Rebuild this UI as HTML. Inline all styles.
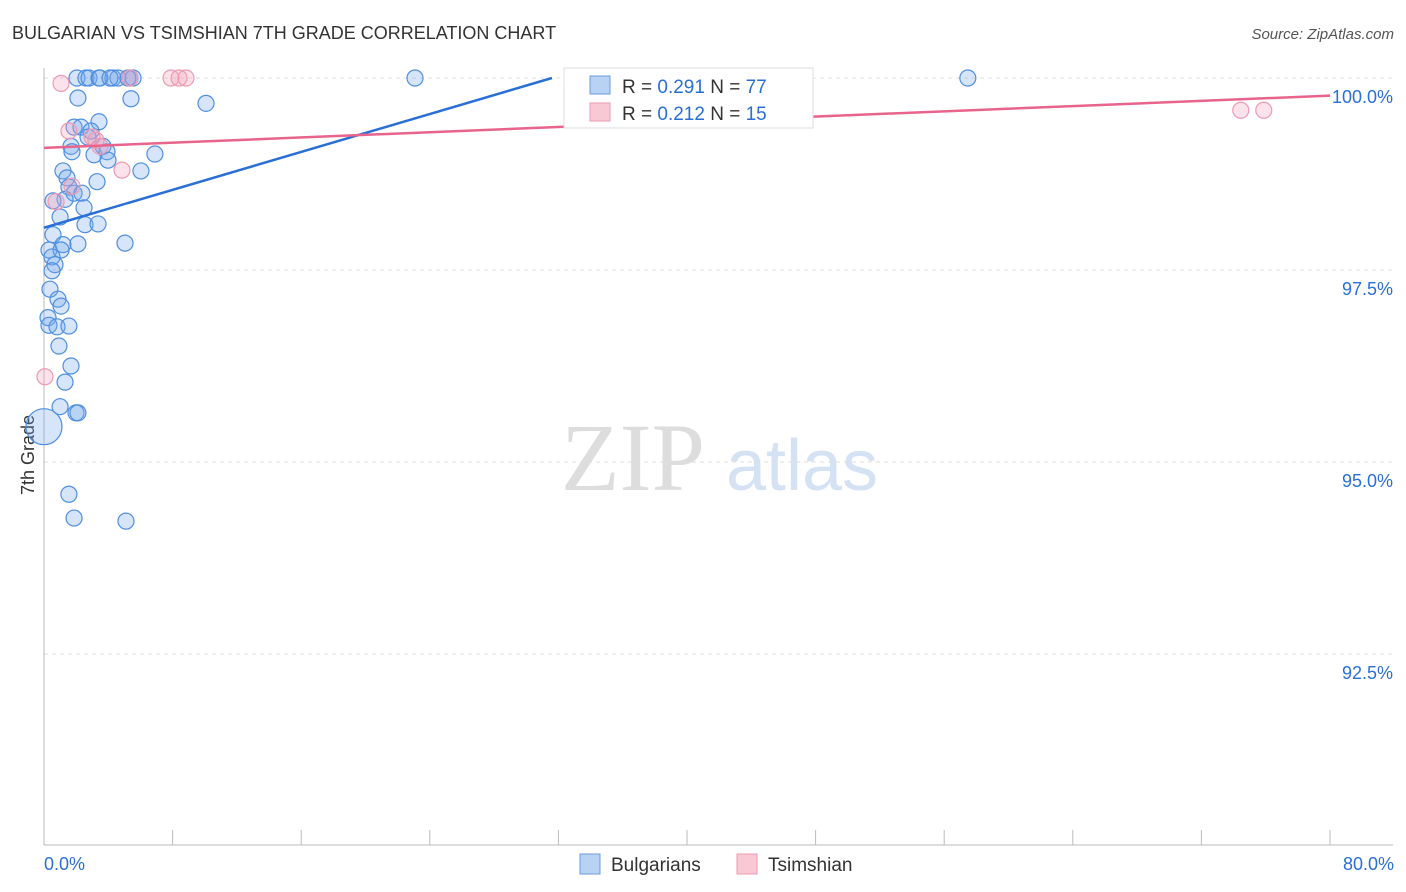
<!DOCTYPE html>
<html><head><meta charset="utf-8"><style>
body{margin:0;background:#fff;font-family:"Liberation Sans",sans-serif;}
svg{display:block}
</style></head><body>
<svg id="chart" width="1406" height="892" xmlns="http://www.w3.org/2000/svg">
<text x="12" y="39" font-size="18" fill="#333">BULGARIAN VS TSIMSHIAN 7TH GRADE CORRELATION CHART</text>
<text x="1394" y="39" font-size="15" fill="#555" font-style="italic" text-anchor="end">Source: ZipAtlas.com</text>
<text x="633" y="490" font-size="96" fill="#ddd" font-family="Liberation Serif,serif" text-anchor="middle">ZIP</text>
<text x="802" y="490" font-size="72" fill="#d4e2f4" text-anchor="middle">atlas</text>
<text transform="translate(34,455) rotate(-90)" font-size="18" fill="#333" text-anchor="middle">7th Grade</text>
<g id="grid"></g><g id="axes"></g><g id="marks"></g>
<g>
<rect x="564" y="68" width="249" height="60" fill="#fff" stroke="#ddd"/>
<rect x="590" y="76" width="20" height="18" fill="#b8d2f4" stroke="#6a9be0"/>
<rect x="590" y="103" width="20" height="18" fill="#f9c8d5" stroke="#ee9ab2"/>
<text x="622" y="93" font-size="19" fill="#333">R = <tspan fill="#2a6fd6">0.291</tspan>   N = <tspan fill="#2a6fd6">77</tspan></text>
<text x="622" y="120" font-size="19" fill="#333">R = <tspan fill="#2a6fd6">0.212</tspan>   N = <tspan fill="#2a6fd6">15</tspan></text>
</g>
<g>
<rect x="580" y="854" width="20" height="20" fill="#b8d2f4" stroke="#6a9be0"/>
<text x="611" y="871" font-size="19" fill="#333">Bulgarians</text>
<rect x="737" y="854" width="20" height="20" fill="#f9c8d5" stroke="#ee9ab2"/>
<text x="768" y="871" font-size="19" fill="#333">Tsimshian</text>
</g>
</svg>
<script>
const yTicks=[100,97.5,95,92.5];
const yTickLabels=["100.0%","97.5%","95.0%","92.5%"];
const xTickLabels=["0.0%","80.0%"];
const blueX=[2.05,2.61,2.80,3.42,4.29,4.60,5.35,5.54,23.08,57.47,2.11,5.41,10.08,3.42,1.87,2.30,2.92,2.74,1.68,1.74,3.11,3.67,3.92,3.98,6.90,6.03,1.18,1.43,3.30,1.55,1.87,2.36,1.31,0.56,2.49,1.00,2.55,3.36,0.56,1.18,2.11,5.04,0.31,1.06,0.50,0.68,0.50,0.37,0.87,1.06,0.25,0.31,0.81,1.55,0.93,1.68,1.31,1.00,1.99,2.11,0,1.55,1.87,5.10,5.22,3.48,4.11];
const blueY=[100,100,100,100,100,100,100,100,100,100,99.74,99.73,99.67,99.43,99.36,99.36,99.31,99.23,99.11,99.04,99.00,99.11,99.04,98.93,99.01,98.79,98.79,98.70,98.65,98.58,98.50,98.50,98.42,98.40,98.31,98.19,98.09,98.10,97.96,97.83,97.84,97.85,97.76,97.76,97.67,97.57,97.49,97.25,97.12,97.03,96.88,96.78,96.76,96.77,96.51,96.25,96.04,95.72,95.64,95.64,95.46,94.58,94.27,94.23,100,100,100];
const blueR=[8,8,8,8,8,8,8,8,8,8,8,8,8,8,8,8,8,8,8,8,8,8,8,8,8,8,8,8,8,8,8,8,8,8,8,8,8,8,8,8,8,8,8,8,8,8,8,8,8,8,8,8,8,8,8,8,8,8,8,8,18,8,8,8,8,8,8];
const pinkX=[1.06,5.35,7.90,8.40,8.83,1.55,3.23,3.48,4.85,0.75,1.74,0.06,74.45,75.88,2.99];
const pinkY=[99.93,100,100,100,100,99.31,99.19,99.11,98.80,98.39,98.59,96.11,99.58,99.58,99.23];
const blueTrend=[[0,98.05],[31.6,100]];
const pinkTrend=[[0,99.09],[80,99.77]];
const NS="http://www.w3.org/2000/svg";
const X=v=>44+v/80*1286, Y=v=>78+(100-v)/2.5*192;
function mk(t,a,p){const e=document.createElementNS(NS,t);for(const k in a)e.setAttribute(k,a[k]);p.appendChild(e);return e;}
const grid=document.getElementById('grid'),axes=document.getElementById('axes'),marks=document.getElementById('marks');
yTicks.forEach((t,i)=>{
 const l=mk('line',{x1:44,x2:1393,y1:Y(t),y2:Y(t),stroke:'#ddd','stroke-dasharray':'4,4'},grid);
 
 
 const tx=mk('text',{x:1393,y:Y(t)+25,'font-size':18,fill:'#2a6fd6','text-anchor':'end'},axes);
 tx.textContent=yTickLabels[i];
 
 
});
const ax=mk('line',{x1:44,x2:1393,y1:845,y2:845,stroke:'#bbb'},axes);


const ay=mk('line',{x1:44,x2:44,y1:68,y2:845,stroke:'#bbb'},axes);


for(let i=0;i<=10;i++){
 const t=mk('line',{x1:X(i*8),x2:X(i*8),y1:830,y2:845,stroke:'#bbb'},axes);
 
 
}
[[0,'start',44],[1,'end',1394]].forEach(([i,a,x])=>{
 const t=mk('text',{x:x,y:870,'font-size':18,fill:'#2a6fd6','text-anchor':a},axes);
 t.textContent=xTickLabels[i];
 
 
});
blueX.forEach((v,i)=>{
 const c=mk('circle',{cx:X(v),cy:Y(blueY[i]),r:blueR[i],fill:'rgba(120,170,235,0.3)',stroke:'#4f8fe0','stroke-width':1.2},marks);
 
 
});
pinkX.forEach((v,i)=>{
 const c=mk('circle',{cx:X(v),cy:Y(pinkY[i]),r:8,fill:'rgba(245,160,185,0.3)',stroke:'#ee9ab2','stroke-width':1.2},marks);
 
 
});
const bl=mk('line',{x1:X(blueTrend[0][0]),y1:Y(blueTrend[0][1]),x2:X(blueTrend[1][0]),y2:Y(blueTrend[1][1]),stroke:'#2a6fd6','stroke-width':2.5},marks);


const pl=mk('line',{x1:X(pinkTrend[0][0]),y1:Y(pinkTrend[0][1]),x2:X(pinkTrend[1][0]),y2:Y(pinkTrend[1][1]),stroke:'#e8648c','stroke-width':2.5},marks);


</script>
</body></html>
